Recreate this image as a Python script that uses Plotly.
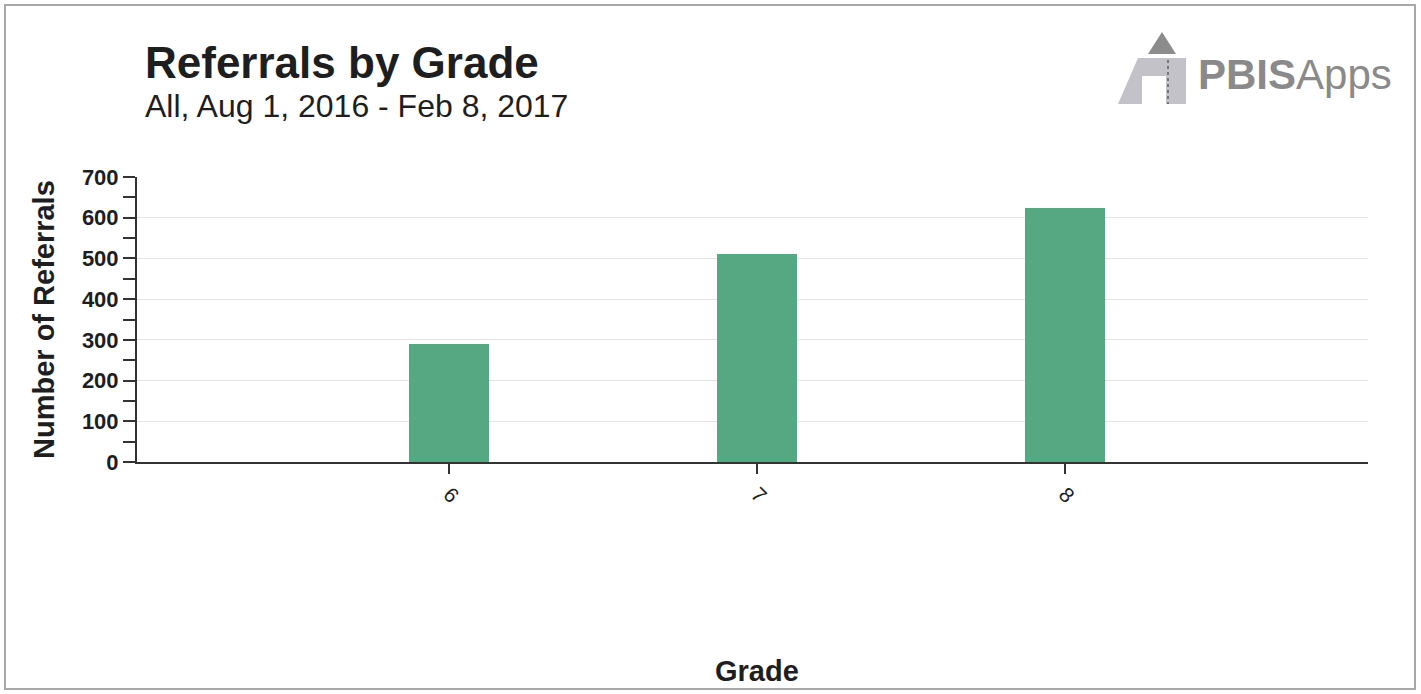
import plotly.graph_objects as go

# Data
grades = [6, 7, 8]
grade_labels = ["6", "7", "8"]
referrals = [289, 512, 624]

TITLE = "Referrals by Grade"
SUBTITLE = "All, Aug 1, 2016 - Feb 8, 2017"

BAR_COLOR = "#55a882"
FONT = "Liberation Sans, Arial, sans-serif"
TEXT = "#1e1e1e"

W, H = 1421, 694
L, R, T, B = 137, 53, 177, 232
PW, PH = W - L - R, H - T - B


def px_x(x):
    return (x - L) / PW


def px_y(y):
    return (H - B - y) / PH


fig = go.Figure(go.Bar(
    x=grades, y=referrals,
    width=0.26,
    marker=dict(color=BAR_COLOR, line=dict(width=0)),
    hoverinfo="x+y",
))

fig.update_layout(
    width=W, height=H,
    margin=dict(l=L, r=R, t=T, b=B),
    paper_bgcolor="white", plot_bgcolor="white",
    font=dict(family=FONT, color=TEXT),
    showlegend=False,
    bargap=0,
)

fig.update_xaxes(
    type="linear", range=[4.985, 8.985],
    tickvals=grades, ticktext=grade_labels, tickangle=45,
    tickfont=dict(size=21, color=TEXT),
    ticks="outside", ticklen=10, tickwidth=2, tickcolor="#333",
    showline=True, linecolor="#333", linewidth=2,
    showgrid=False, zeroline=False,
)

fig.update_yaxes(
    range=[0, 700], dtick=100,
    tickfont=dict(size=22, color=TEXT, weight="bold"),
    ticks="outside", ticklen=12, tickwidth=2, tickcolor="#333",
    minor=dict(dtick=50, ticks="outside", ticklen=12, tickwidth=2, tickcolor="#333", showgrid=False),
    showline=True, linecolor="#333", linewidth=2,
    showgrid=True, gridcolor="#e4e4e4", gridwidth=1,
    zeroline=False,
)

# titles
fig.add_annotation(
    text=f"<b>{TITLE}</b>", xref="paper", yref="paper",
    x=px_x(143), y=px_y(62), xanchor="left", yanchor="middle",
    showarrow=False, font=dict(size=44, color=TEXT, family=FONT),
)
fig.add_annotation(
    text=SUBTITLE, xref="paper", yref="paper",
    x=px_x(143), y=px_y(106), xanchor="left", yanchor="middle",
    showarrow=False, font=dict(size=32, color=TEXT, family=FONT),
)
fig.add_annotation(
    text="<b>Number of Referrals</b>", xref="paper", yref="paper",
    x=px_x(44), y=px_y(320), xanchor="center", yanchor="middle",
    textangle=-90, showarrow=False, font=dict(size=29, color=TEXT, family=FONT),
)
fig.add_annotation(
    text="<b>Grade</b>", xref="paper", yref="paper",
    x=px_x(757), y=px_y(671), xanchor="center", yanchor="middle",
    showarrow=False, font=dict(size=29, color=TEXT, family=FONT),
)

# logo
fig.add_annotation(
    text="<b>PBIS</b>Apps", xref="paper", yref="paper",
    x=px_x(1196), y=px_y(74), xanchor="left", yanchor="middle",
    showarrow=False, font=dict(size=42, color="#8a8a8a", family=FONT),
)


def path(points):
    return "M " + " L ".join(f"{px_x(a)},{px_y(b)}" for a, b in points) + " Z"


fig.add_shape(type="path", xref="paper", yref="paper",
              path=path([(1162, 32), (1176, 54), (1148, 54)]),
              fillcolor="#8c8c8c", line=dict(width=0))
fig.add_shape(type="path", xref="paper", yref="paper",
              path=path([(1138, 58), (1186, 58), (1186, 104), (1118, 104)]),
              fillcolor="#c2c2c8", line=dict(width=0))
fig.add_shape(type="path", xref="paper", yref="paper",
              path=path([(1142, 76), (1166, 76), (1166, 104), (1142, 104)]),
              fillcolor="white", line=dict(width=0))
fig.add_shape(type="line", xref="paper", yref="paper",
              x0=px_x(1168), x1=px_x(1168), y0=px_y(60), y1=px_y(104),
              line=dict(color="#777", width=2, dash="dot"))

# frame
fig.add_shape(type="rect", xref="paper", yref="paper",
              x0=px_x(5), x1=px_x(1415), y0=px_y(689), y1=px_y(5),
              line=dict(color="#a8a8a8", width=2), layer="below")

fig.write_html(
    "out.html",
    config={"displayModeBar": False},
    post_script="document.body.style.margin='0';document.body.style.overflow='hidden';",
)
